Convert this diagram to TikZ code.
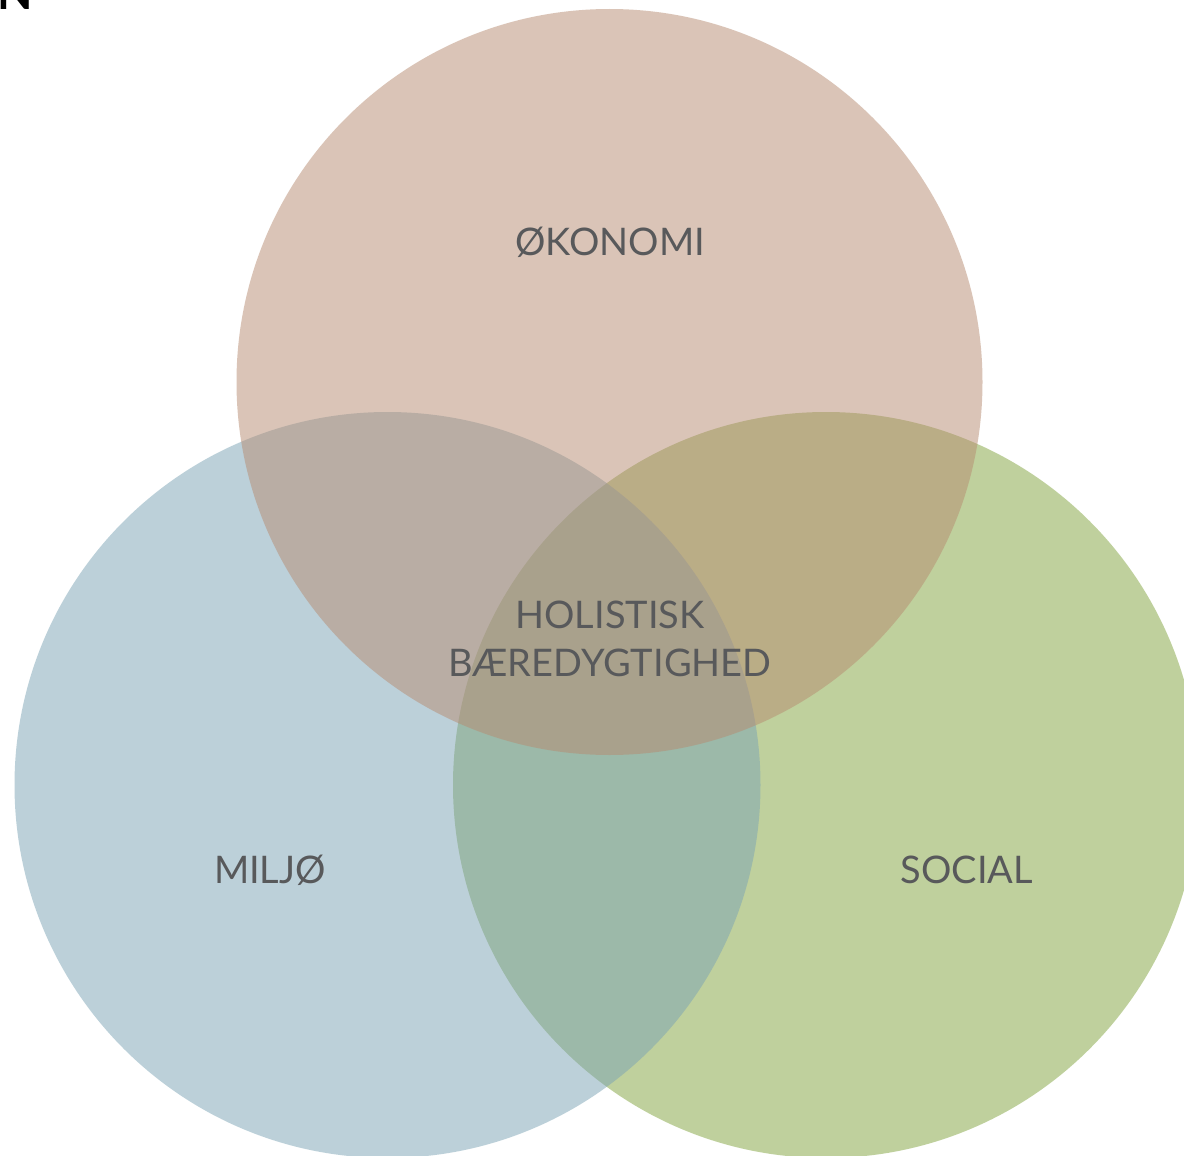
\documentclass[tikz,border=0pt]{standalone}
\usepackage{fontspec}
\setmainfont{Lato}
\definecolor{txtgrey}{HTML}{58595B}
\definecolor{econ}{HTML}{B78B71}
\definecolor{envi}{HTML}{7BA3B5}
\definecolor{soci}{HTML}{81A33D}
\begin{document}
\begin{tikzpicture}[x=1pt,y=-1pt,
  lbl/.style={text=txtgrey,font=\fontsize{38}{48}\selectfont,align=center,inner sep=0pt},
  venn/.style={fill opacity=0.5}]
\fill[white] (0,0) rectangle (1184,1156);
\useasboundingbox (0,0) rectangle (1184,1156);
\clip (0,0) rectangle (1184,1156);
\fill[venn,soci] (826,785) circle (373);
\fill[venn,envi] (387.5,785) circle (373);
\fill[venn,econ] (609.5,382) circle (373);
\node[lbl] (okonomi) at (610,242) {ØKONOMI};
\node[lbl] (holistisk) at (610,639) {HOLISTISK\\BÆREDYGTIGHED};
\node[lbl] (miljo) at (270,870) {MILJØ};
\node[lbl] (social) at (967,870) {SOCIAL};
\node[anchor=base west,inner sep=0pt,font=\fontsize{46}{46}\bfseries\selectfont,text=black] (n) at (-3,10) {N};
\end{tikzpicture}
\end{document}
